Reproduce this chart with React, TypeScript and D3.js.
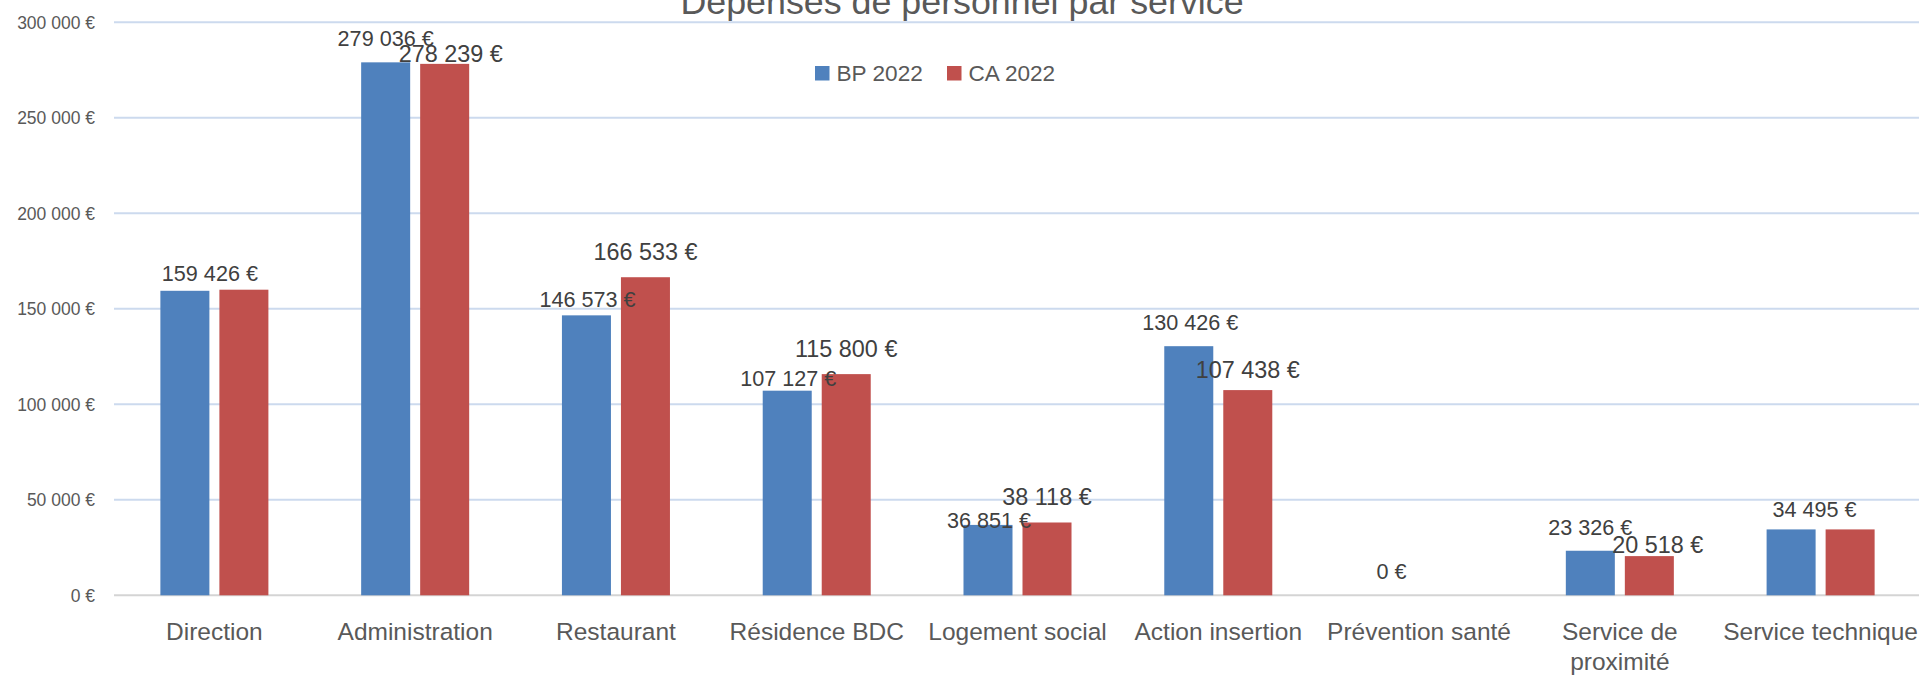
import React from "react";
import * as d3 from "d3";

const categories: string[] = [
  "Direction",
  "Administration",
  "Restaurant",
  "Résidence BDC",
  "Logement social",
  "Action insertion",
  "Prévention santé",
  "Service de proximité",
  "Service technique",
];
const seriesNames: string[] = ["BP 2022", "CA 2022"];
const bpValues: number[] = [159426, 279036, 146573, 107127, 36851, 130426, 0, 23326, 34495];
const caValues: number[] = [160000, 278239, 166533, 115800, 38118, 107438, 0, 20518, 34495];
// which data labels are shown
const bpLabelShown: boolean[] = [true, true, true, true, true, true, true, true, true];
const caLabelShown: boolean[] = [false, true, true, true, true, true, false, true, false];
const yTicks: number[] = [0, 50000, 100000, 150000, 200000, 250000, 300000];
const title = "Dépenses de personnel par service";

// label placement tweaks (layout, relative to bar top / center)
const bpLabelOffsets: [number, number][] = [
  [25, -10], [0, -16.5], [1, -8], [1, -5], [1, 3.5], [1.5, -16], [2, -16], [0, -16], [23.5, -12],
];
const caLabelOffsets: [number, number][] = [
  [0, -17], [6, -2], [0, -17], [0, -17.5], [0, -17.5], [0, -12.5], [0, -17], [8.5, -3.5], [0, -17],
];

const W = 1919;
const H = 676;
const FONT = "'Liberation Sans', Arial, sans-serif";
const COLORS = ["#4F81BD", "#C0504D"];

const fmt = (v: number) => {
  const s = d3.format(",")(v).replace(/,/g, " ");
  return s + " €";
};

export default function App() {
  const x0 = d3
    .scaleBand<string>()
    .domain(categories)
    .range([114, 1921])
    .paddingInner(0.462)
    .paddingOuter(0.231);
  const x1 = d3
    .scaleBand<string>()
    .domain(seriesNames)
    .range([0, x0.bandwidth()])
    .paddingInner(0.1695);
  const y = d3.scaleLinear().domain([0, 300000]).range([595.3, 22.3]);

  const series = [
    { name: seriesNames[0], values: bpValues, shown: bpLabelShown, offs: bpLabelOffsets, size: 21.6 },
    { name: seriesNames[1], values: caValues, shown: caLabelShown, offs: caLabelOffsets, size: 23.4 },
  ];

  return (
    <div style={{ position: "absolute", left: 0, top: 0 }}>
      <svg width={W} height={H} style={{ display: "block", background: "#fff" }} fontFamily={FONT}>
        {/* gridlines */}
        {yTicks.map((t) => (
          <line
            key={"g" + t}
            x1={114}
            x2={W}
            y1={y(t)}
            y2={y(t)}
            stroke={t === 0 ? "#D4D4D4" : "#CCDAEE"}
            strokeWidth={2}
          />
        ))}
        {/* y tick labels */}
        {yTicks.map((t) => (
          <text
            key={"t" + t}
            x={95}
            y={y(t)}
            dy="0.36em"
            textAnchor="end"
            fontSize={17.5}
            fill="#595959"
          >
            {fmt(t)}
          </text>
        ))}
        {/* title */}
        <text x={962} y={14} textAnchor="middle" fontSize={35.8} fill="#595959">
          {title}
        </text>
        {/* legend */}
        {seriesNames.map((s, i) => {
          const lx = [815, 947][i];
          return (
            <g key={"l" + s}>
              <rect x={lx} y={66} width={14.5} height={14.5} fill={COLORS[i]} />
              <text x={lx + 21.5} y={81} fontSize={22.6} fill="#595959">
                {s}
              </text>
            </g>
          );
        })}
        {/* bars */}
        {series.map((s, si) =>
          categories.map((c, ci) => {
            const v = s.values[ci];
            const bx = (x0(c) as number) + (x1(s.name) as number);
            return (
              <rect
                key={"b" + si + "-" + ci}
                x={bx}
                y={y(v)}
                width={x1.bandwidth()}
                height={y(0) - y(v)}
                fill={COLORS[si]}
              />
            );
          })
        )}
        {/* data labels */}
        {series.map((s, si) =>
          categories.map((c, ci) => {
            if (!s.shown[ci]) return null;
            const v = s.values[ci];
            const cx = (x0(c) as number) + (x1(s.name) as number) + x1.bandwidth() / 2;
            const [dx, dy] = s.offs[ci];
            return (
              <text
                key={"d" + si + "-" + ci}
                x={cx + dx}
                y={y(v) + dy}
                textAnchor="middle"
                fontSize={s.size}
                fill="#404040"
              >
                {fmt(v)}
              </text>
            );
          })
        )}
        {/* category labels */}
        {categories.map((c) => {
          const cx = (x0(c) as number) + x0.bandwidth() / 2;
          const words = c === "Service de proximité" ? ["Service de", "proximité"] : [c];
          return (
            <text key={"c" + c} x={cx} y={640} textAnchor="middle" fontSize={24.5} fill="#595959">
              {words.map((w, i) => (
                <tspan key={i} x={cx} dy={i === 0 ? 0 : 30}>
                  {w}
                </tspan>
              ))}
            </text>
          );
        })}
      </svg>
    </div>
  );
}
